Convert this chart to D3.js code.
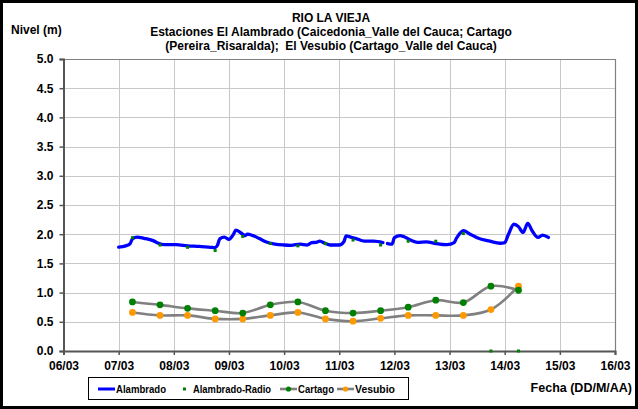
<!DOCTYPE html>
<html>
<head>
<meta charset="utf-8">
<script src="https://cdn.jsdelivr.net/npm/d3@7"></script>
<style>
  html, body { margin: 0; padding: 0; background: #fff; }
  svg text { font-family: "Liberation Sans", Arial, sans-serif; font-weight: bold; fill: #000; }
</style>
</head>
<body>
<svg id="chart" width="638" height="409"></svg>
<script>
// Río La Vieja — water level (m) at three stations, 07/03 to 14/03

const titleLines = [
  "RIO LA VIEJA",
  "Estaciones El Alambrado (Caicedonia_Valle del Cauca; Cartago",
  "(Pereira_Risaralda);  El Vesubio (Cartago_Valle del Cauca)"
];
const yTitle = "Nivel (m)";
const xTitle = "Fecha (DD/M/AA)";

// x axis ticks (one per day) and y axis ticks
const dayTicks = ["06/03 00:00","07/03 00:00","08/03 00:00","09/03 00:00","10/03 00:00","11/03 00:00",
                  "12/03 00:00","13/03 00:00","14/03 00:00","15/03 00:00","16/03 00:00"];
const levelTicks = [0, 0.5, 1.0, 1.5, 2.0, 2.5, 3.0, 3.5, 4.0, 4.5, 5.0];

// El Alambrado — continuous record (two segments, gap on the night of 11/03)
const alambradoSeg1Time = ["07/03 00:00","07/03 03:00","07/03 05:00","07/03 06:00","07/03 08:00","07/03 11:00",
  "07/03 15:00","07/03 17:00","07/03 20:00","08/03 01:00","08/03 06:00","08/03 11:00","08/03 16:00",
  "08/03 18:00","08/03 19:00","08/03 20:00","08/03 22:00","09/03 00:00","09/03 02:00","09/03 03:00",
  "09/03 06:00","09/03 07:00","09/03 08:00","09/03 10:30","09/03 13:00","09/03 16:00","09/03 20:00",
  "10/03 00:00","10/03 03:00","10/03 07:00","10/03 10:00","10/03 12:00","10/03 14:00","10/03 15:30",
  "10/03 18:00","10/03 20:00","11/03 00:00","11/03 02:00","11/03 03:00","11/03 05:00","11/03 07:00",
  "11/03 11:00","11/03 15:00","11/03 19:00"];
const alambradoSeg1Level = [1.78,1.80,1.84,1.92,1.95,1.93,
  1.89,1.85,1.82,1.82,1.80,1.79,1.775,
  1.77,1.81,1.92,1.95,1.91,2.00,2.07,
  2.00,1.975,2.00,1.975,1.93,1.87,1.83,
  1.815,1.81,1.83,1.815,1.855,1.86,1.88,
  1.84,1.815,1.815,1.87,1.97,1.95,1.93,
  1.88,1.88,1.855];
const alambradoSeg2Time = ["11/03 21:00","11/03 23:00","12/03 00:00","12/03 02:30","12/03 04:00","12/03 07:00",
  "12/03 10:00","12/03 14:00","12/03 17:30","12/03 23:00","13/03 02:00","13/03 03:00","13/03 04:30",
  "13/03 06:00","13/03 09:00","13/03 12:00","13/03 17:30","13/03 22:00","14/03 00:00","14/03 01:30",
  "14/03 04:00","14/03 06:00","14/03 08:00","14/03 10:00","14/03 12:00","14/03 14:30","14/03 16:30",
  "14/03 19:00"];
const alambradoSeg2Level = [1.84,1.83,1.94,1.975,1.96,1.90,
  1.86,1.87,1.845,1.82,1.855,1.93,2.015,
  2.06,2.00,1.94,1.88,1.845,1.855,1.985,
  2.17,2.13,2.03,2.185,2.055,1.945,1.985,
  1.945];

// Twice-daily readings (06:00 and 18:00)
const readingTime = ["07/03 06:00","07/03 18:00","08/03 06:00","08/03 18:00","09/03 06:00","09/03 18:00",
  "10/03 06:00","10/03 18:00","11/03 06:00","11/03 18:00","12/03 06:00","12/03 18:00",
  "13/03 06:00","13/03 18:00","14/03 06:00"];
const radioLevel   = [1.94,1.815,1.775,1.72,1.96,1.84,1.80,1.84,1.90,1.815,1.88,1.88,2.01,0.0,0.0];
const cartagoLevel = [0.84,0.79,0.73,0.69,0.65,0.79,0.84,0.69,0.65,0.69,0.75,0.87,0.83,1.11,1.04];
const vesubioLevel = [0.66,0.61,0.61,0.55,0.55,0.61,0.66,0.55,0.51,0.56,0.61,0.61,0.61,0.71,1.11];

const legendLabels = ["Alambrado", "Alambrado-Radio", "Cartago", "Vesubio"];

const parseT = d3.timeParse("%d/%m %H:%M");
const svg = d3.select("#chart");
const W = 638, H = 409;

// outer frame
svg.append("rect").attr("x", 1.5).attr("y", 1.5).attr("width", W - 3).attr("height", H - 3)
  .attr("fill", "#fff").attr("stroke", "#000").attr("stroke-width", 3);

const plot = { left: 63.5, right: 615, top: 59, bottom: 351 };

const x = d3.scaleTime()
  .domain([parseT(dayTicks[0]), parseT(dayTicks[dayTicks.length - 1])])
  .range([plot.left, plot.right]);
const y = d3.scaleLinear().domain([0, 5]).range([plot.bottom, plot.top]);

// gridlines
const grid = svg.append("g");
grid.selectAll("line.h").data(levelTicks.filter(v => v > 0)).join("line")
  .attr("x1", plot.left).attr("x2", plot.right)
  .attr("y1", d => Math.round(y(d)) + 0.5).attr("y2", d => Math.round(y(d)) + 0.5)
  .attr("stroke", "#c8c8c8").attr("stroke-width", 1);
grid.selectAll("line.v").data(dayTicks.slice(1)).join("line")
  .attr("x1", d => Math.round(x(parseT(d))) + 0.5).attr("x2", d => Math.round(x(parseT(d))) + 0.5)
  .attr("y1", plot.top).attr("y2", plot.bottom)
  .attr("stroke", "#c8c8c8").attr("stroke-width", 1);

// plot area border (top and right)
svg.append("path")
  .attr("d", `M${plot.left},${plot.top + 0.5}H${plot.right + 0.5}V${plot.bottom}`)
  .attr("fill", "none").attr("stroke", "#808080").attr("stroke-width", 1.2);

// axes
const yAxis = d3.axisLeft(y).tickValues(levelTicks).tickFormat(d3.format(".1f")).tickSize(4).tickPadding(6);
const gy = svg.append("g").attr("transform", `translate(${plot.left},0)`).call(yAxis);
gy.select(".domain").attr("stroke", "#555").attr("stroke-width", 2);
gy.selectAll(".tick line").attr("stroke", "#555").attr("stroke-width", 1.5);
gy.selectAll(".tick text").style("font-size", "12px").attr("fill", "#000");

const xAxis = d3.axisBottom(x).tickValues(dayTicks.map(parseT)).tickFormat(d3.timeFormat("%d/%m"))
  .tickSize(4).tickPadding(6);
const gx = svg.append("g").attr("transform", `translate(0,${plot.bottom})`).call(xAxis);
gx.select(".domain").attr("stroke", "#555").attr("stroke-width", 2);
gx.selectAll(".tick line").attr("stroke", "#555").attr("stroke-width", 1.5);
gx.selectAll(".tick text").style("font-size", "12px").attr("fill", "#000");

// smooth gray lines with markers (Cartago, Vesubio)
const smooth = d3.line().x(d => x(d.t)).y(d => y(d.v)).curve(d3.curveCatmullRom.alpha(0.5));
const cartago = readingTime.map((t, i) => ({ t: parseT(t), v: cartagoLevel[i] }));
const vesubio = readingTime.map((t, i) => ({ t: parseT(t), v: vesubioLevel[i] }));
[cartago, vesubio].forEach(s => {
  svg.append("path").datum(s).attr("d", smooth)
    .attr("fill", "none").attr("stroke", "#808080").attr("stroke-width", 2.6);
});
svg.append("g").selectAll("circle").data(vesubio).join("circle")
  .attr("cx", d => x(d.t)).attr("cy", d => y(d.v)).attr("r", 3.4).attr("fill", "#FF9900");
svg.append("g").selectAll("circle").data(cartago).join("circle")
  .attr("cx", d => x(d.t)).attr("cy", d => y(d.v)).attr("r", 3.4).attr("fill", "#008000");

// Alambrado continuous record
const blueLine = d3.line().x(d => x(d.t)).y(d => y(d.v)).curve(d3.curveMonotoneX);
[[alambradoSeg1Time, alambradoSeg1Level], [alambradoSeg2Time, alambradoSeg2Level]].forEach(([ts, vs]) => {
  const seg = ts.map((t, i) => ({ t: parseT(t), v: vs[i] }));
  svg.append("path").datum(seg).attr("d", blueLine)
    .attr("fill", "none").attr("stroke", "#0000FF").attr("stroke-width", 3.3)
    .attr("stroke-linejoin", "round").attr("stroke-linecap", "round");
});

// Alambrado radio readings
const radio = readingTime.map((t, i) => ({ t: parseT(t), v: radioLevel[i] }));
svg.append("g").selectAll("rect").data(radio).join("rect")
  .attr("x", d => x(d.t) - 1.5).attr("y", d => y(d.v) - 1.5).attr("width", 3).attr("height", 3)
  .attr("fill", "#008000");

// titles
const title = svg.append("text").attr("text-anchor", "middle").style("font-size", "12px")
  .style("white-space", "pre");
titleLines.forEach((line, i) => {
  title.append("tspan").attr("x", 331).attr("y", 22 + i * 14).text(line);
});
svg.append("text").attr("x", 11).attr("y", 34).style("font-size", "12px").text(yTitle);
svg.append("text").attr("x", 632).attr("y", 392).attr("text-anchor", "end").style("font-size", "12.5px").text(xTitle);

// legend
const lg = svg.append("g");
lg.append("rect").attr("x", 88.5).attr("y", 377.5).attr("width", 320).attr("height", 22)
  .attr("fill", "#fff").attr("stroke", "#000").attr("stroke-width", 1);
const ly = 389;
lg.append("line").attr("x1", 98).attr("x2", 115).attr("y1", ly).attr("y2", ly)
  .attr("stroke", "#0000FF").attr("stroke-width", 3);
lg.append("rect").attr("x", 183).attr("y", ly - 1.5).attr("width", 3).attr("height", 3).attr("fill", "#008000");
lg.append("line").attr("x1", 280).attr("x2", 297).attr("y1", ly).attr("y2", ly)
  .attr("stroke", "#808080").attr("stroke-width", 2.6);
lg.append("circle").attr("cx", 288.5).attr("cy", ly).attr("r", 2.6).attr("fill", "#008000");
lg.append("line").attr("x1", 337).attr("x2", 354).attr("y1", ly).attr("y2", ly)
  .attr("stroke", "#808080").attr("stroke-width", 2.6);
lg.append("circle").attr("cx", 345.5).attr("cy", ly).attr("r", 2.6).attr("fill", "#FF9900");
const lx = [116, 193, 298, 355];
const lw = [50, 78, 36, 40];
legendLabels.forEach((lab, i) => {
  lg.append("text").attr("x", lx[i]).attr("y", ly + 4).style("font-size", "11px")
    .attr("textLength", lw[i]).attr("lengthAdjust", "spacingAndGlyphs").text(lab);
});
</script>
</body>
</html>
